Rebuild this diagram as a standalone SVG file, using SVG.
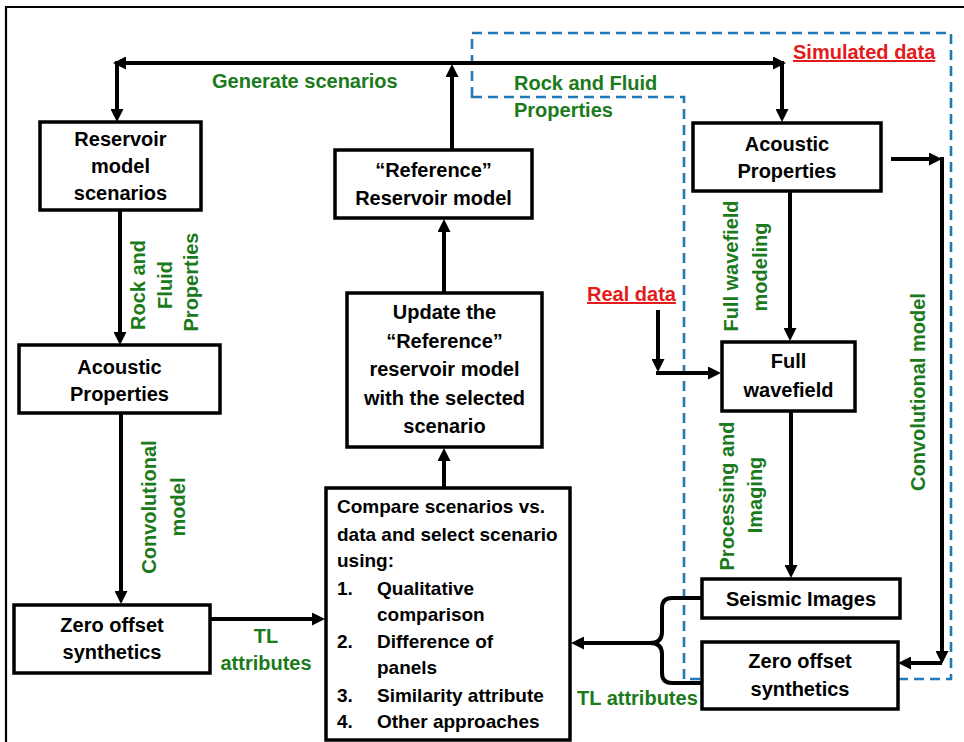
<svg xmlns="http://www.w3.org/2000/svg" width="964" height="742" viewBox="0 0 964 742">
<style>
  .box { fill: #ffffff; stroke: #000000; stroke-width: 3.5; }
  .t { font-family: "Liberation Sans", Arial, sans-serif; font-weight: bold; font-size: 20px; fill: #000000; text-anchor: middle; }
  .tl { font-family: "Liberation Sans", Arial, sans-serif; font-weight: bold; font-size: 19px; fill: #000000; }
  .g { font-family: "Liberation Sans", Arial, sans-serif; font-weight: bold; font-size: 20px; fill: #1b7a1b; }
  .gm { text-anchor: middle; }
  .red { font-family: "Liberation Sans", Arial, sans-serif; font-weight: bold; font-size: 20px; fill: #e31b1b; text-decoration: underline; }
  .c { fill: none; stroke: #000000; stroke-width: 4; }
  .dash { fill: none; stroke: #2279b5; stroke-width: 2.6; stroke-dasharray: 10 6; }
</style>
<defs>
  <marker id="ah" markerUnits="userSpaceOnUse" markerWidth="14" markerHeight="13" refX="5" refY="6.5" orient="auto">
    <path d="M0,0 L13,6.5 L0,13 z" fill="#000000"/>
  </marker>
</defs>

<rect width="964" height="742" fill="#ffffff"/>
<path d="M6,742 V7 H964" fill="none" stroke="#000000" stroke-width="2.2"/>

<path id="simulated-region" class="dash" d="M472,97 V33 H951 V679 H684 V97 Z"/>

<g id="connectors">
  <line class="c" x1="452" y1="63" x2="121" y2="63" marker-end="url(#ah)"/>
  <line class="c" x1="452" y1="63" x2="778" y2="63" marker-end="url(#ah)"/>
  <line class="c" x1="117" y1="61" x2="117" y2="114" marker-end="url(#ah)"/>
  <line class="c" x1="782" y1="61" x2="782" y2="114" marker-end="url(#ah)"/>
  <line class="c" x1="452" y1="150" x2="452" y2="72" marker-end="url(#ah)"/>
  <line class="c" x1="120" y1="210" x2="120" y2="337" marker-end="url(#ah)"/>
  <line class="c" x1="121" y1="413" x2="121" y2="596" marker-end="url(#ah)"/>
  <line class="c" x1="210" y1="619" x2="317" y2="619" marker-end="url(#ah)"/>
  <line class="c" x1="444" y1="488" x2="444" y2="456" marker-end="url(#ah)"/>
  <line class="c" x1="444" y1="293" x2="444" y2="227" marker-end="url(#ah)"/>
  <line class="c" x1="790" y1="192" x2="790" y2="333" marker-end="url(#ah)"/>
  <line class="c" x1="791" y1="411" x2="791" y2="570" marker-end="url(#ah)"/>
  <line class="c" x1="891" y1="159" x2="934" y2="159" marker-end="url(#ah)"/>
  <line class="c" x1="942" y1="157" x2="942" y2="656" marker-end="url(#ah)"/>
  <line class="c" x1="942" y1="663" x2="906" y2="663" marker-end="url(#ah)"/>
  <line class="c" x1="658" y1="310" x2="658" y2="364" marker-end="url(#ah)"/>
  <line class="c" x1="656" y1="373" x2="713" y2="373" marker-end="url(#ah)"/>
  <path class="c" d="M702,598 H672 Q662,598 662,608 V632 Q662,643 650,643 Q662,643 662,654 V673 Q662,683 672,683 H702"/>
  <line class="c" x1="652" y1="643" x2="579" y2="643" marker-end="url(#ah)"/>
</g>

<g id="connector-labels">
  <text class="g" x="212" y="88">Generate scenarios</text>
  <text class="g" x="514" y="90">Rock and Fluid</text>
  <text class="g" x="514" y="117">Properties</text>
  <text class="g gm" transform="translate(145,285) rotate(-90)">Rock and</text>
  <text class="g gm" transform="translate(172,285) rotate(-90)">Fluid</text>
  <text class="g gm" transform="translate(198,282) rotate(-90)">Properties</text>
  <text class="g gm" transform="translate(156,507) rotate(-90)">Convolutional</text>
  <text class="g gm" transform="translate(185,507) rotate(-90)">model</text>
  <text class="g gm" x="266" y="643">TL</text>
  <text class="g gm" x="266" y="670">attributes</text>
  <text class="g gm" transform="translate(738,266) rotate(-90)">Full wavefield</text>
  <text class="g gm" transform="translate(767,267) rotate(-90)">modeling</text>
  <text class="g gm" transform="translate(734,496) rotate(-90)">Processing and</text>
  <text class="g gm" transform="translate(762,495) rotate(-90)">Imaging</text>
  <text class="g gm" transform="translate(925,392) rotate(-90)">Convolutional model</text>
  <text class="g" x="577" y="705">TL attributes</text>
  <text class="red" x="793" y="59">Simulated data</text>
  <text class="red" x="587" y="301">Real data</text>
</g>

<g id="reservoir-scenarios">
  <rect class="box" x="40" y="122" width="161" height="88"/>
  <text class="t" x="120.5" y="146">Reservoir</text>
  <text class="t" x="120.5" y="173">model</text>
  <text class="t" x="120.5" y="200">scenarios</text>
</g>

<g id="acoustic-left">
  <rect class="box" x="19" y="345" width="201" height="68"/>
  <text class="t" x="119.5" y="374">Acoustic</text>
  <text class="t" x="119.5" y="401">Properties</text>
</g>

<g id="zero-offset-left">
  <rect class="box" x="14" y="605" width="196" height="68"/>
  <text class="t" x="112" y="632">Zero offset</text>
  <text class="t" x="112" y="659">synthetics</text>
</g>

<g id="reference-model">
  <rect class="box" x="335" y="150" width="197" height="68"/>
  <text class="t" x="433.5" y="177">“Reference”</text>
  <text class="t" x="433.5" y="205">Reservoir model</text>
</g>

<g id="update-model">
  <rect class="box" x="347" y="293" width="195" height="154"/>
  <text class="t" x="444.5" y="319">Update the</text>
  <text class="t" x="444.5" y="347.5">“Reference”</text>
  <text class="t" x="444.5" y="376">reservoir model</text>
  <text class="t" x="444.5" y="404.5">with the selected</text>
  <text class="t" x="444.5" y="433">scenario</text>
</g>

<g id="compare-scenarios">
  <rect class="box" x="326" y="488" width="244" height="252"/>
  <text class="tl" x="337" y="513">Compare scenarios vs.</text>
  <text class="tl" x="337" y="541">data and select scenario</text>
  <text class="tl" x="337" y="567">using:</text>
  <text class="tl" x="337" y="595">1.</text>
  <text class="tl" x="377" y="595">Qualitative</text>
  <text class="tl" x="377" y="621">comparison</text>
  <text class="tl" x="337" y="648">2.</text>
  <text class="tl" x="377" y="648">Difference of</text>
  <text class="tl" x="377" y="674">panels</text>
  <text class="tl" x="337" y="702">3.</text>
  <text class="tl" x="377" y="702">Similarity attribute</text>
  <text class="tl" x="337" y="728">4.</text>
  <text class="tl" x="377" y="728">Other approaches</text>
</g>

<g id="acoustic-right">
  <rect class="box" x="693" y="123" width="188" height="68"/>
  <text class="t" x="787" y="151">Acoustic</text>
  <text class="t" x="787" y="178">Properties</text>
</g>

<g id="full-wavefield">
  <rect class="box" x="722" y="342" width="133" height="69"/>
  <text class="t" x="788.5" y="368">Full</text>
  <text class="t" x="788.5" y="397">wavefield</text>
</g>

<g id="seismic-images">
  <rect class="box" x="702" y="579" width="198" height="39"/>
  <text class="t" x="801" y="606">Seismic Images</text>
</g>

<g id="zero-offset-right">
  <rect class="box" x="702" y="642" width="196" height="67"/>
  <text class="t" x="800" y="668">Zero offset</text>
  <text class="t" x="800" y="696">synthetics</text>
</g>
</svg>
